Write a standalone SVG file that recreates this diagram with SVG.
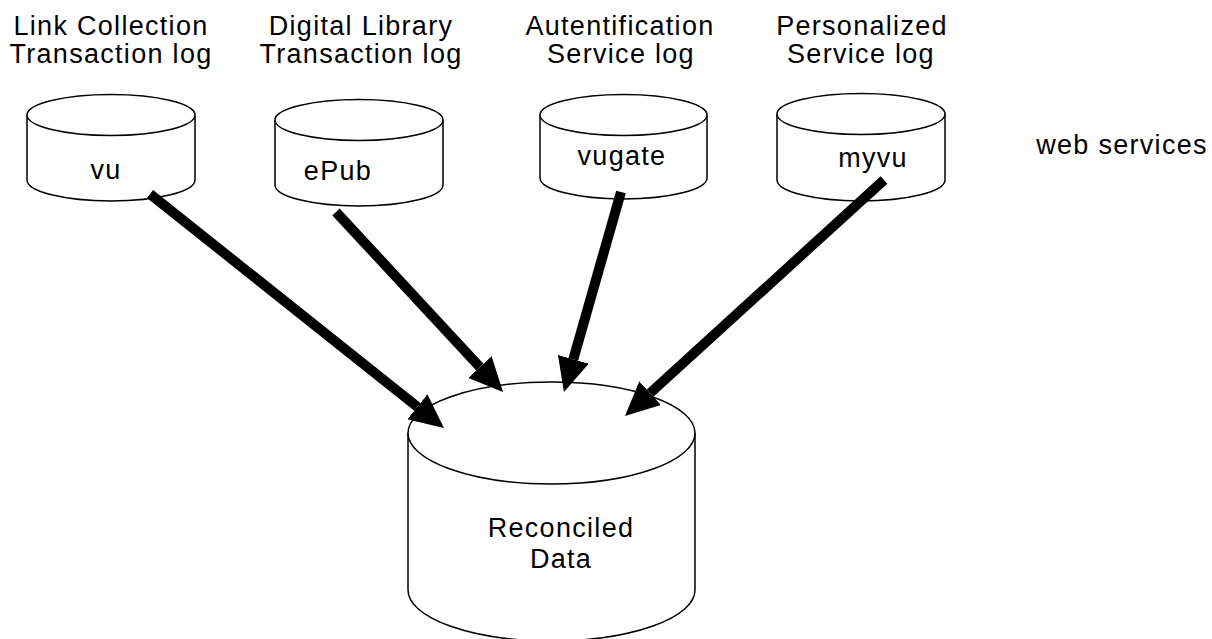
<svg xmlns="http://www.w3.org/2000/svg" width="1212" height="639" viewBox="0 0 1212 639">
  <style>
    .lbl { font-family: "Liberation Sans", Arial, sans-serif; font-size: 27px; letter-spacing: 1.3px; fill: #000; text-anchor: middle; }
    .db { fill: #fff; stroke: #000; stroke-width: 1.5; }
    .flow { stroke: #000; stroke-width: 10; fill: none; stroke-linecap: butt; marker-end: url(#head); }
  </style>
  <defs>
    <marker id="head" viewBox="0 0 34 32" refX="0" refY="16" markerWidth="34" markerHeight="32" markerUnits="userSpaceOnUse" orient="auto">
      <path d="M0,0 L34,16 L0,32 Z" fill="#000"/>
    </marker>
  </defs>

  <!-- source labels -->
  <g id="captions">
    <text class="lbl" x="111" y="35">Link Collection</text>
    <text class="lbl" x="111" y="63">Transaction log</text>
    <text class="lbl" x="361" y="35">Digital Library</text>
    <text class="lbl" x="361" y="63">Transaction log</text>
    <text class="lbl" x="620" y="35">Autentification</text>
    <text class="lbl" x="621" y="63">Service log</text>
    <text class="lbl" x="862" y="35">Personalized</text>
    <text class="lbl" x="861" y="63">Service log</text>
    <text class="lbl" x="1122" y="154">web services</text>
  </g>

  <!-- log stores -->
  <g id="db-vu">
    <path class="db" d="M27,115 L27,180 A84,21 0 0 0 195,180 L195,115"/>
    <ellipse class="db" cx="111" cy="115" rx="84" ry="20.5"/>
    <text class="lbl" x="106" y="179">vu</text>
  </g>
  <g id="db-epub">
    <path class="db" d="M275,120 L275,185 A84,21 0 0 0 443,185 L443,120"/>
    <ellipse class="db" cx="359" cy="120" rx="84" ry="20.5"/>
    <text class="lbl" x="338" y="180">ePub</text>
  </g>
  <g id="db-vugate">
    <path class="db" d="M540,115 L540,178 A83.5,21 0 0 0 707,178 L707,115"/>
    <ellipse class="db" cx="623.5" cy="115" rx="83.5" ry="20.5"/>
    <text class="lbl" x="622" y="165">vugate</text>
  </g>
  <g id="db-myvu">
    <path class="db" d="M777,114 L777,180 A84,21 0 0 0 945,180 L945,114"/>
    <ellipse class="db" cx="861" cy="114" rx="84" ry="20.5"/>
    <text class="lbl" x="873" y="167">myvu</text>
  </g>

  <!-- merged store -->
  <g id="db-reconciled">
    <path class="db" d="M408,433 L408,590 A143.5,51 0 0 0 695,590 L695,433"/>
    <ellipse class="db" cx="551.5" cy="433" rx="143.5" ry="51"/>
    <text class="lbl" x="561" y="537">Reconciled</text>
    <text class="lbl" x="561" y="568">Data</text>
  </g>

  <!-- flows into the reconciled store -->
  <g id="connectors">
    <line class="flow" x1="150" y1="194" x2="417.4" y2="406.8"/>
    <line class="flow" x1="336" y1="212" x2="479.9" y2="367.1"/>
    <line class="flow" x1="621" y1="192" x2="573.3" y2="359.3"/>
    <line class="flow" x1="884" y1="180" x2="650.1" y2="393.1"/>
  </g>
</svg>
